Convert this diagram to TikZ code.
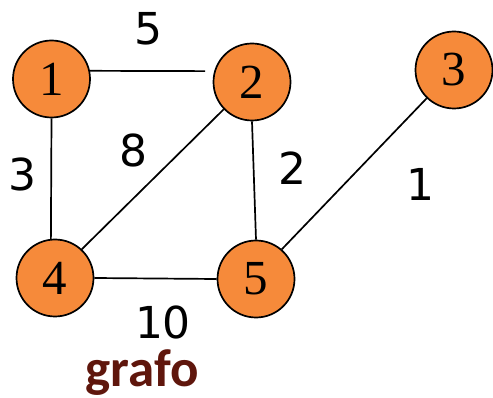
\documentclass[tikz,border=0pt]{standalone}
\usepackage{fontspec}
\setmainfont{Liberation Serif}
\newfontfamily\lblfont{DejaVu Sans}
\newfontfamily\capfont{Carlito}
\definecolor{nodeorange}{RGB}{246,138,58}
\definecolor{capred}{RGB}{95,22,12}
\begin{document}
\begin{tikzpicture}[x=1pt,y=-1pt,
  vertex/.style={circle,draw=black,line width=1.7pt,fill=nodeorange,minimum size=77pt,inner sep=0pt,font=\fontsize{49}{49}\selectfont},
  weight/.style={inner sep=0pt,font=\lblfont\fontsize{44}{44}\selectfont},
  edge/.style={line width=1.7pt}]
\useasboundingbox (0,0) rectangle (493,398);
\node[vertex] (n1) at (51.5,79) {1};
\node[vertex] (n2) at (252,82) {2};
\node[vertex] (n3) at (454,70) {3};
\node[vertex] (n4) at (55,278) {4};
\node[vertex] (n5) at (256,279) {5};
\draw[edge,shorten >=9pt] (n1.12) -- (n2.164);
\draw[edge] (n1.south) -- (n4.96);
\draw[edge] (n2.224) -- (n4.47);
\draw[edge] (n2.south) -- (n5.north);
\draw[edge] (n3.226) -- (n5.49);
\draw[edge] (n4.east) -- (n5.west);
\node[weight] (w12) at (148,29) {5};
\node[weight] (w14) at (22,174) {3};
\node[weight] (w24) at (133,150) {8};
\node[weight] (w25) at (292,168) {2};
\node[weight] (w35) at (420,184) {1};
\node[weight] (w45) at (163,322) {10};
\node[inner sep=0pt,anchor=base,text=capred,font=\capfont\bfseries\fontsize{53}{53}\selectfont] (cap) at (142,386) {grafo};
\end{tikzpicture}
\end{document}
